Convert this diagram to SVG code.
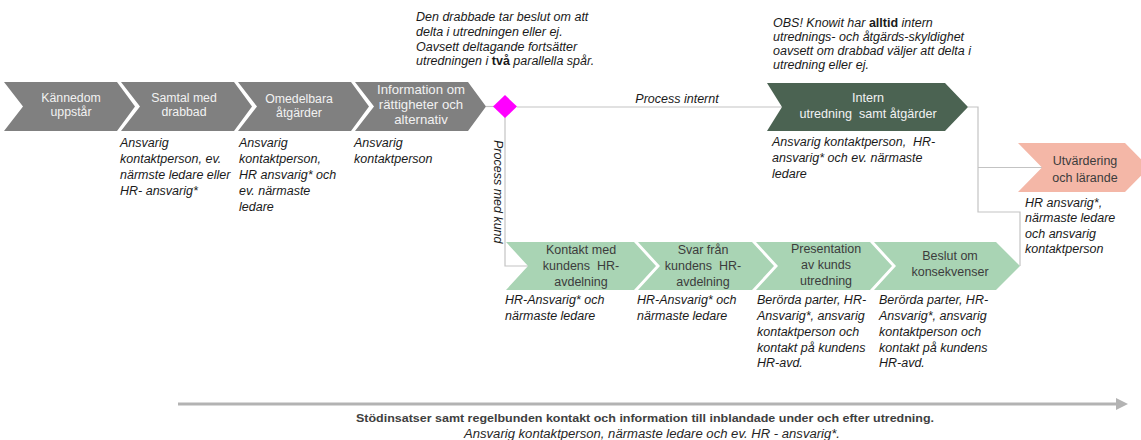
<svg xmlns="http://www.w3.org/2000/svg" width="1141" height="440" viewBox="0 0 1141 440">
<style>
.t{font-family:"Liberation Sans",Arial,sans-serif;}
.ct{font-family:"Liberation Sans",Arial,sans-serif;font-size:12.3px;fill:#f2f2f2;text-anchor:middle;}
.ct.big{font-size:13.2px;}
.ct.mid{font-size:12.6px;}
.gt{font-family:"Liberation Sans",Arial,sans-serif;font-size:12.5px;fill:#3c3c3c;text-anchor:middle;}
.it{font-family:"Liberation Sans",Arial,sans-serif;font-size:12.5px;font-style:italic;fill:#1a1a1a;}
.grey{fill:#808080;}
.green{fill:#a9d4b4;}
.conn{fill:none;stroke:#c3c3c3;stroke-width:1.2;}
</style>
<defs>
<marker id="ah" markerWidth="4" markerHeight="4" refX="2" refY="2" orient="auto" markerUnits="strokeWidth">
<path d="M0,0 L4,2 L0,4 Z" fill="#b3b3b3"/>
</marker>
</defs>
<rect width="1141" height="440" fill="#ffffff"/>

<g id="connectors">
<path class="conn" d="M486,106.5 L494,106.5"/>
<path class="conn" d="M517,107 L782,107"/>
<path class="conn" d="M505,117 L505,266 L528,266"/>
<path class="conn" d="M968,107 L978,107 L978,212 L1020,212 L1020,266"/>
<path class="conn" d="M978,167.5 L1042,167.5"/>
<path d="M178,404 L1122,404" stroke="#b3b3b3" stroke-width="3" fill="none" marker-end="url(#ah)"/>
</g>

<g id="note-top">
<text class="it" x="416" y="21">Den drabbade tar beslut om att</text>
<text class="it" x="416" y="36">delta i utredningen eller ej.</text>
<text class="it" x="416" y="50.5">Oavsett deltagande fortsätter</text>
<text class="it" x="416" y="65">utredningen i <tspan font-weight="bold" font-style="normal">två</tspan> parallella spår.</text>
</g>

<g id="note-obs">
<text class="it" x="773" y="27">OBS! Knowit har <tspan font-weight="bold" font-style="normal">alltid</tspan> intern</text>
<text class="it" x="773" y="41">utrednings- och åtgärds-skyldighet</text>
<text class="it" x="773" y="55">oavsett om drabbad väljer att delta i</text>
<text class="it" x="773" y="69">utredning eller ej.</text>
</g>

<g id="n1">
<path class="grey" d="M4,82 L117,82 L135,106.5 L117,131 L4,131 L23,106.5 Z"/>
<text class="ct" x="71" y="102">Kännedom</text>
<text class="ct" x="71" y="116">uppstår</text>
</g>

<g id="n2">
<path class="grey" d="M121,82 L234,82 L252,106.5 L234,131 L121,131 L140,106.5 Z"/>
<text class="ct" x="184" y="102">Samtal med</text>
<text class="ct" x="184" y="116">drabbad</text>
<text class="it" x="120" y="147">Ansvarig</text>
<text class="it" x="120" y="163">kontaktperson, ev.</text>
<text class="it" x="120" y="179">närmste ledare eller</text>
<text class="it" x="120" y="195">HR- ansvarig*</text>
</g>

<g id="n3">
<path class="grey" d="M238,82 L351,82 L369,106.5 L351,131 L238,131 L257,106.5 Z"/>
<text class="ct" x="299" y="103">Omedelbara</text>
<text class="ct" x="299" y="117">åtgärder</text>
<text class="it" x="239" y="147">Ansvarig</text>
<text class="it" x="239" y="163">kontaktperson,</text>
<text class="it" x="239" y="179">HR ansvarig* och</text>
<text class="it" x="239" y="195">ev. närmaste</text>
<text class="it" x="239" y="211">ledare</text>
</g>

<g id="n4">
<path class="grey" d="M355,82 L468,82 L486,106.5 L468,131 L355,131 L374,106.5 Z"/>
<text class="ct big" x="421" y="94">Information om</text>
<text class="ct big" x="421" y="109">rättigheter  och</text>
<text class="ct big" x="421" y="124">alternativ</text>
<text class="it" x="354" y="147">Ansvarig</text>
<text class="it" x="354" y="163">kontaktperson</text>
</g>

<g id="decision">
<path d="M505,95 L517,106.5 L505,118 L493,106.5 Z" fill="#ff00ff"/>
<text class="it" x="0" y="0" transform="translate(494,140) rotate(90)">Process med kund</text>
<text class="it" x="677" y="103" text-anchor="middle">Process internt</text>
</g>

<g id="n-intern">
<path d="M767,83 L945,83 L968,107 L945,131 L767,131 L782,107 Z" fill="#4b6352"/>
<text class="ct mid" x="868" y="102">Intern</text>
<text class="ct mid" x="868" y="118" style="white-space:pre">utredning  samt åtgärder</text>
<text class="it" x="772" y="146" style="white-space:pre">Ansvarig kontaktperson,  HR-</text>
<text class="it" x="772" y="162">ansvarig* och ev. närmaste</text>
<text class="it" x="772" y="178">ledare</text>
</g>

<g id="n-utv">
<path d="M1018,143 L1125,143 L1149,167.5 L1125,192 L1018,192 L1042,167.5 Z" fill="#f4b7a7"/>
<text class="gt" x="1085" y="165">Utvärdering</text>
<text class="gt" x="1085" y="182">och lärande</text>
<text class="it" x="1025" y="207">HR ansvarig*,</text>
<text class="it" x="1025" y="222">närmaste ledare</text>
<text class="it" x="1025" y="238">och ansvarig</text>
<text class="it" x="1025" y="253">kontaktperson</text>
</g>

<g id="g1">
<path class="green" d="M506,242 L634,242 L656,266 L634,290 L506,290 L528,266 Z"/>
<text class="gt" x="581" y="254">Kontakt med</text>
<text class="gt" x="581" y="270" style="white-space:pre">kundens  HR-</text>
<text class="gt" x="581" y="286">avdelning</text>
<text class="it" x="505" y="304">HR-Ansvarig* och</text>
<text class="it" x="505" y="320">närmaste ledare</text>
</g>

<g id="g2">
<path class="green" d="M638,242 L752,242 L774,266 L752,290 L638,290 L660,266 Z"/>
<text class="gt" x="703" y="254">Svar från</text>
<text class="gt" x="703" y="270" style="white-space:pre">kundens  HR-</text>
<text class="gt" x="703" y="286">avdelning</text>
<text class="it" x="637" y="304">HR-Ansvarig* och</text>
<text class="it" x="637" y="320">närmaste ledare</text>
</g>

<g id="g3">
<path class="green" d="M756,242 L870,242 L892,266 L870,290 L756,290 L778,266 Z"/>
<text class="gt" x="826" y="253">Presentation</text>
<text class="gt" x="826" y="269">av kunds</text>
<text class="gt" x="826" y="285">utredning</text>
<text class="it" x="757" y="304">Berörda parter, HR-</text>
<text class="it" x="757" y="320">Ansvarig*, ansvarig</text>
<text class="it" x="757" y="336">kontaktperson och</text>
<text class="it" x="757" y="352">kontakt på kundens</text>
<text class="it" x="757" y="367">HR-avd.</text>
</g>

<g id="g4">
<path class="green" d="M874,242 L996,242 L1020,266 L996,290 L874,290 L896,266 Z"/>
<text class="gt" x="950" y="260">Beslut om</text>
<text class="gt" x="950" y="276">konsekvenser</text>
<text class="it" x="879" y="304">Berörda parter, HR-</text>
<text class="it" x="879" y="320">Ansvarig*, ansvarig</text>
<text class="it" x="879" y="336">kontaktperson och</text>
<text class="it" x="879" y="352">kontakt på kundens</text>
<text class="it" x="879" y="367">HR-avd.</text>
</g>

<g id="support">
<text class="t" x="645" y="422" font-size="11.5" font-weight="bold" fill="#404040" text-anchor="middle" textLength="578" lengthAdjust="spacingAndGlyphs">Stödinsatser samt regelbunden kontakt och information till inblandade under och efter utredning.</text>
<text class="t" x="652" y="438" font-size="12" font-style="italic" fill="#262626" text-anchor="middle" textLength="376" lengthAdjust="spacingAndGlyphs">Ansvarig kontaktperson, närmaste ledare och ev. HR - ansvarig*.</text>
</g>
</svg>
